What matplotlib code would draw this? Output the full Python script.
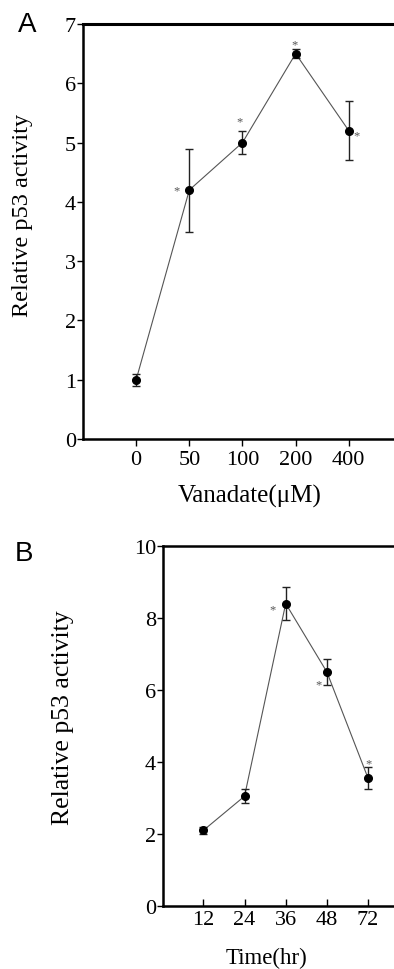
import matplotlib
matplotlib.use("Agg")
import matplotlib.pyplot as plt
import numpy as np

# Panel A data
conc_labels = ["0", "50", "100", "200", "400"]
act_a = [1.0, 4.2, 5.0, 6.5, 5.2]
err_a = [0.1, 0.7, 0.2, 0.08, 0.5]
# Panel B data
time_labels = ["12", "24", "36", "48", "72"]
act_b = [2.1, 3.05, 8.4, 6.5, 3.55]
err_b = [0.1, 0.2, 0.45, 0.35, 0.3]

W, H = 394, 970
fig = plt.figure(figsize=(W / 100, H / 100), dpi=100)
serif = ["Liberation Serif", "DejaVu Serif"]
sans = ["Liberation Sans", "DejaVu Sans"]

def px_axes(l, t, r, b):
    return fig.add_axes([l / W, 1 - b / H, (r - l) / W, (b - t) / H])

def style(ax, xdir):
    ax.spines["right"].set_visible(False)
    ax.spines["top"].set_linewidth(2.2)
    ax.spines["left"].set_linewidth(1.8)
    ax.spines["bottom"].set_linewidth(1.8)
    ax.tick_params(axis="y", direction="out", length=4, width=1, labelsize=16, pad=1)
    ax.tick_params(axis="x", direction=xdir, length=5, width=1, labelsize=16, pad=3)
    for lab in ax.get_xticklabels() + ax.get_yticklabels():
        lab.set_fontfamily(serif)

star_kw = dict(fontsize=9, color="#555555", ha="center", va="center", fontfamily=serif)

# ---- Panel A
axa = px_axes(83, 25, 394, 440)
xa = np.arange(len(act_a))
axa.plot(xa, act_a, color="#555555", lw=0.8, zorder=2)
axa.errorbar(xa, act_a, yerr=err_a, fmt="o", color="black", ms=5.5,
             ecolor="#222222", elinewidth=1.0, capsize=3, capthick=1, zorder=3)
axa.set_xlim(-1, 4.85)
axa.set_ylim(0, 7)
axa.set_xticks(xa)
axa.set_xticklabels(conc_labels)
axa.set_yticks(range(0, 8))
style(axa, "out")
axa.set_xlabel("Vanadate(\u03bcM)", fontfamily=serif, fontsize=18)
axa.xaxis.set_label_coords(0.537, -0.137)
axa.xaxis.label.set_va("center")
axa.set_ylabel("Relative p53 activity", fontfamily=serif, fontsize=17.5)
axa.yaxis.set_label_coords(-0.193, 0.542)
axa.yaxis.label.set_va("center")
axa.text(xa[1] - 0.25, act_a[1] - 0.0, "*", **star_kw)
axa.text(xa[2] - 0.06, act_a[2] + 0.36, "*", **star_kw)
axa.text(xa[3] - 0.02, act_a[3] + 0.15, "*", **star_kw)
axa.text(xa[4] + 0.15, act_a[4] - 0.07, "*", **star_kw)
fig.text(27 / W, 1 - 25 / H, "A", fontfamily=sans, fontsize=20, ha="center", va="center")

# ---- Panel B
axb = px_axes(163, 547, 394, 907)
xb = np.arange(len(act_b))
axb.plot(xb, act_b, color="#555555", lw=0.8, zorder=2)
axb.errorbar(xb, act_b, yerr=err_b, fmt="o", color="black", ms=5.5,
             ecolor="#222222", elinewidth=1.0, capsize=3, capthick=1, zorder=3)
axb.set_xlim(-0.98, 4.63)
axb.set_ylim(0, 10)
axb.set_xticks(xb)
axb.set_xticklabels(time_labels)
axb.set_yticks(range(0, 11, 2))
style(axb, "in")
axb.spines["top"].set_linewidth(1.8)
axb.set_xlabel("Time(hr)", fontfamily=serif, fontsize=16.5)
axb.xaxis.set_label_coords(0.446, -0.142)
axb.xaxis.label.set_va("center")
axb.set_ylabel("Relative p53 activity", fontfamily=serif, fontsize=18.5)
axb.yaxis.set_label_coords(-0.433, 0.525)
axb.yaxis.label.set_va("center")
axb.text(xb[2] - 0.33, act_b[2] - 0.15, "*", **star_kw)
axb.text(xb[3] - 0.2, act_b[3] - 0.33, "*", **star_kw)
axb.text(xb[4] + 0.0, act_b[4] + 0.4, "*", **star_kw)
fig.text(24 / W, 1 - 554 / H, "B", fontfamily=sans, fontsize=20, ha="center", va="center")

fig.savefig("out.png", dpi=100, facecolor="white")
